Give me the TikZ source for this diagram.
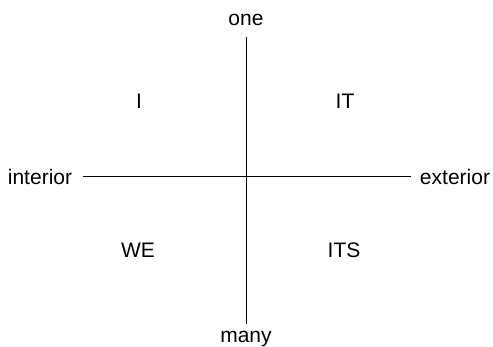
\documentclass[tikz,border=0pt]{standalone}
\usepackage{fontspec}
\setmainfont{Liberation Sans}
\tikzset{
  axislabel/.style={inner sep=0pt, anchor=base, font=\fontsize{21}{25}\selectfont},
  quadlabel/.style={inner sep=0pt, anchor=base, font=\fontsize{21}{25}\selectfont}
}

\begin{document}
\begin{tikzpicture}[x=1pt, y=-1pt, line width=1pt]
  \useasboundingbox (0,0) rectangle (493,346);
  % Axis ends
  \node[axislabel] (one) at (246,25) {one};
  \node[axislabel] (many) at (246,342) {many};
  \node[axislabel] (interior) at (40,184) {interior};
  \node[axislabel] (exterior) at (455,184) {exterior};

  % Quadrants
  \node[quadlabel] (i) at (139,108) {I};
  \node[quadlabel] (it) at (345,108) {IT};
  \node[quadlabel] (we) at (138,257) {WE};
  \node[quadlabel] (its) at (344,257) {ITS};

  % Axes
  \draw[shorten <=11pt, shorten >=6pt] (one.south) -- (many.north);
  \draw[shorten <=10pt, shorten >=8pt] (interior.east) -- (exterior.west);
\end{tikzpicture}
\end{document}
